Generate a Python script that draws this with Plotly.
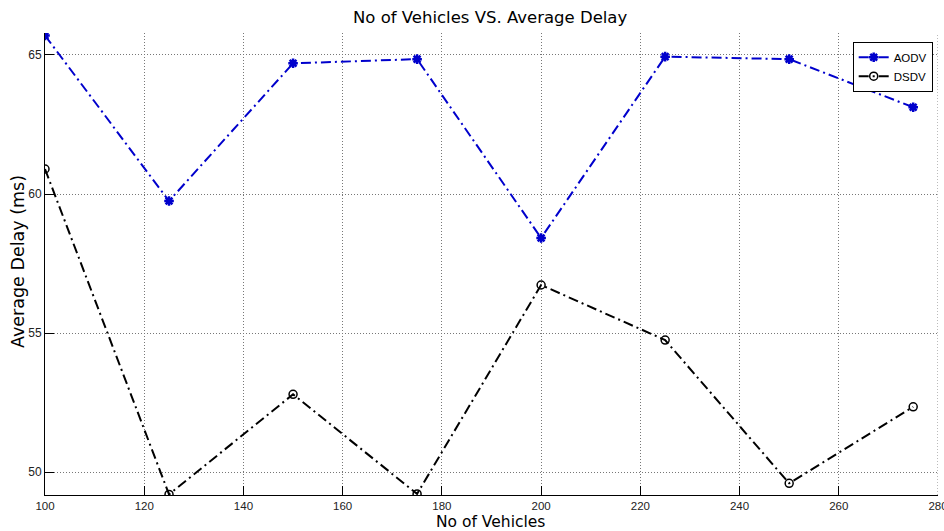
import plotly.graph_objects as go

vehicles = [100, 125, 150, 175, 200, 225, 250, 275]
aodv = [65.70, 59.75, 64.70, 64.85, 58.42, 64.94, 64.85, 63.12]
dsdv = [60.90, 49.20, 52.80, 49.22, 56.73, 54.75, 49.60, 52.35]

x_ticks = [100, 120, 140, 160, 180, 200, 220, 240, 260, 280]
y_ticks = [50, 55, 60, 65]

W, H = 944, 531
L, R, T, B = 45, 6, 33, 36
pw, ph = W - L - R, H - T - B

fig = go.Figure()
dash = "10px,4px,2px,4px"
fig.add_trace(go.Scatter(
    x=vehicles, y=aodv, name="AODV", mode="lines+markers",
    line=dict(color="#0000cc", width=2, dash=dash),
    marker=dict(symbol="asterisk-open", size=8, color="#0000cc",
                line=dict(color="#0000cc", width=2.5)),
))
fig.add_trace(go.Scatter(
    x=vehicles, y=dsdv, name="DSDV", mode="lines+markers",
    line=dict(color="#000000", width=2, dash=dash),
    marker=dict(symbol="circle-open", size=8, color="#000000",
                line=dict(color="#000000", width=1.5)),
))

font = "Liberation Sans, Arial, sans-serif"
tfont = "DejaVu Sans, Verdana, sans-serif"
axis_common = dict(
    showline=True, linecolor="black", linewidth=1,
    ticks="inside", ticklen=9, tickcolor="black", tickwidth=1,
    showgrid=True, gridcolor="#777777", gridwidth=1, griddash="1px,2px",
    zeroline=False,
    automargin=False, ticklabeloverflow="allow",
)
fig.update_layout(
    width=W, height=H,
    margin=dict(l=L, r=R, t=T, b=B),
    paper_bgcolor="white", plot_bgcolor="white",
    showlegend=True,
    legend=dict(x=(852.7 - L) / pw, y=(H - B - 41.7) / ph, xanchor="left", yanchor="top",
                bordercolor="black", borderwidth=1, bgcolor="white",
                font=dict(family=font, size=11.5, color="black"),
                itemwidth=30, tracegroupgap=0),
    xaxis=dict(range=[100, 280], tickvals=x_ticks, ticklabelstandoff=0,
               tickfont=dict(family=font, size=11.5, color="#222222"), **axis_common),
    yaxis=dict(range=[49.18, 65.79], tickvals=y_ticks,
               tickfont=dict(family=font, size=12, color="#222222"), **axis_common),
    shapes=[
        dict(type="line", xref="x", yref="paper", x0=280, x1=280, y0=0, y1=1,
             line=dict(color="#777777", width=1, dash="1px,2px")),
    ],
    annotations=[
        dict(text="No of Vehicles VS. Average Delay", xref="paper", yref="paper",
             x=(490 - L) / pw, y=(H - B - 18) / ph, xanchor="center", yanchor="middle",
             showarrow=False, font=dict(family=tfont, size=16.5, color="black")),
        dict(text="No of Vehicles", xref="paper", yref="paper",
             x=(490 - L) / pw, y=(H - B - 521.5) / ph, xanchor="center", yanchor="middle",
             showarrow=False, font=dict(family=tfont, size=15.5, color="black")),
        dict(text="Average Delay (ms)", xref="paper", yref="paper",
             x=(18 - L) / pw, y=(H - B - 262) / ph, xanchor="center", yanchor="middle",
             textangle=-90, showarrow=False, font=dict(family=tfont, size=17.5, color="black")),
    ],
)

fig.write_html("out.html")
